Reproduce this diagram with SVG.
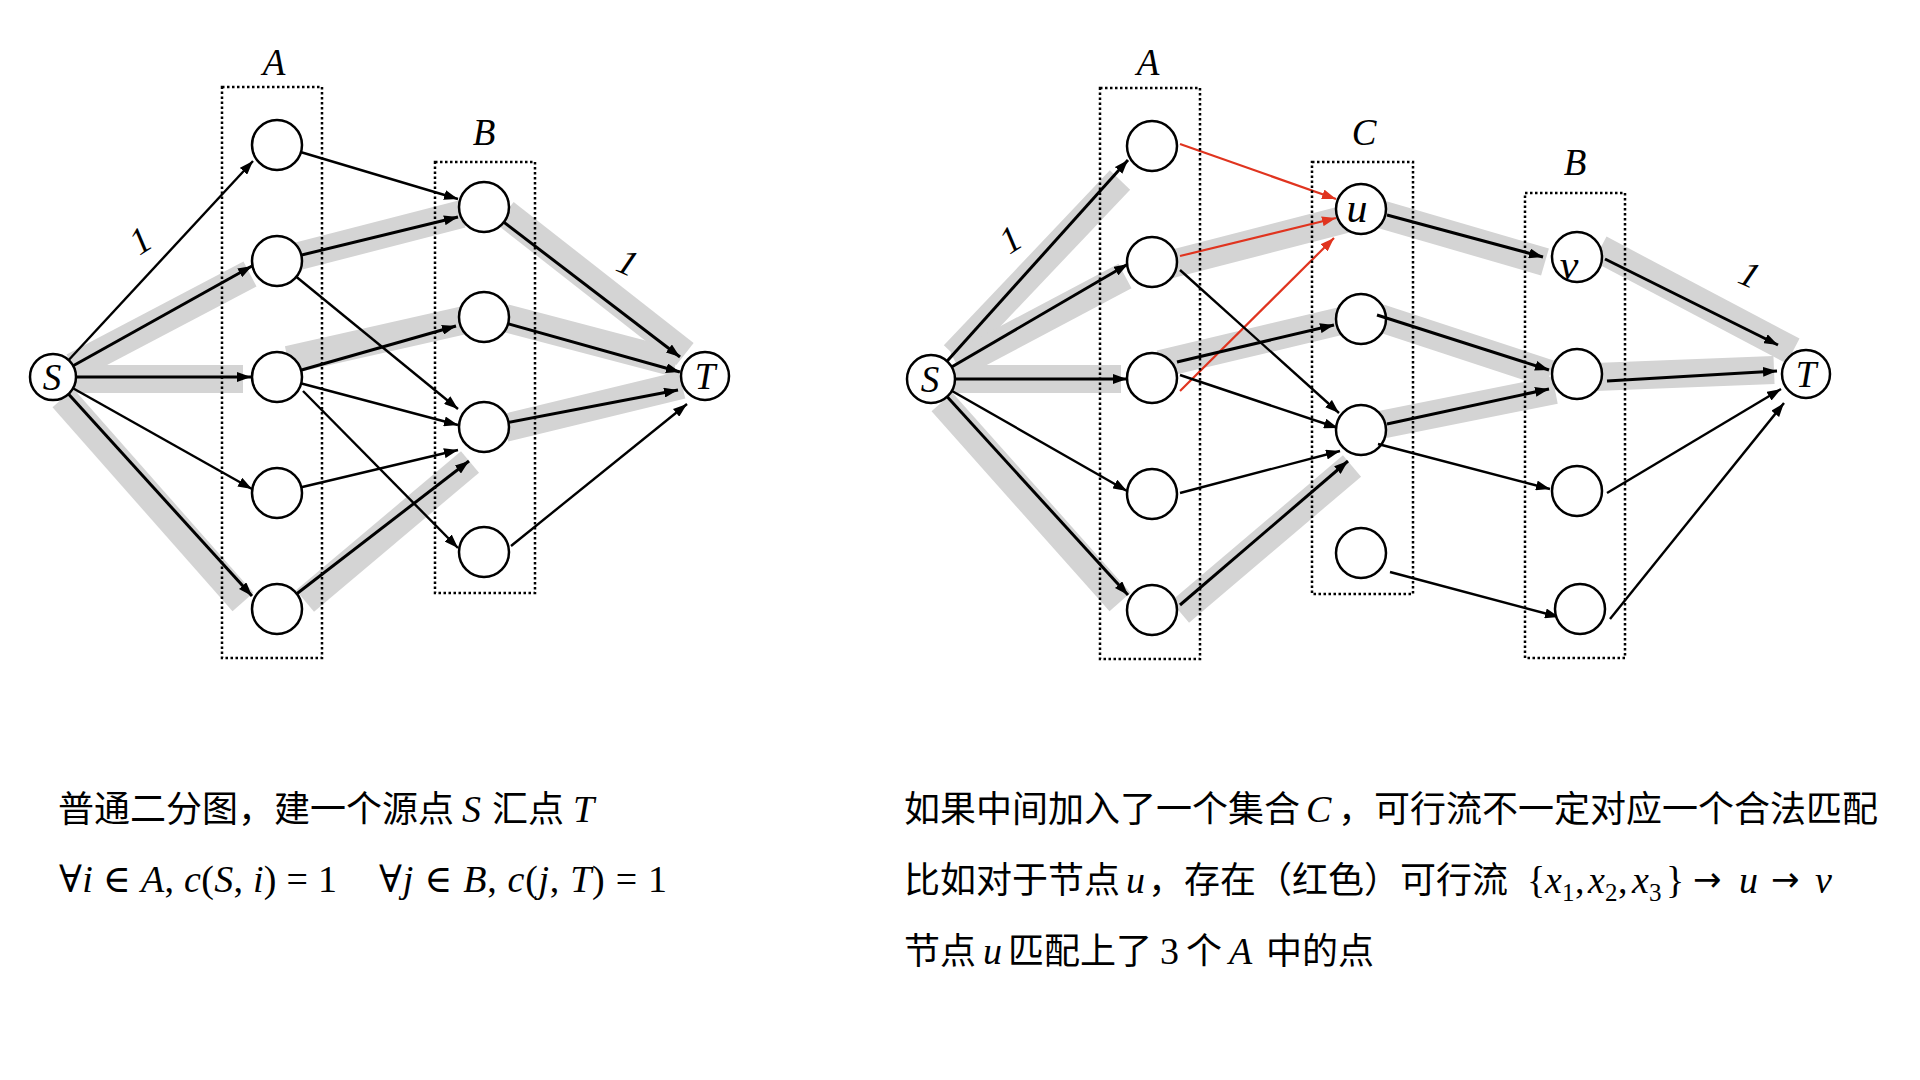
<svg xmlns="http://www.w3.org/2000/svg" width="1920" height="1080" viewBox="0 0 1920 1080">
<defs>
<marker id="ah" viewBox="0 0 14 10" refX="14" refY="5" markerWidth="14" markerHeight="10" markerUnits="userSpaceOnUse" orient="auto"><path d="M0,0 L14,5 L0,10 z" fill="#000"/></marker>
<marker id="ahr" viewBox="0 0 14 10" refX="14" refY="5" markerWidth="14" markerHeight="10" markerUnits="userSpaceOnUse" orient="auto"><path d="M0,0 L14,5 L0,10 z" fill="#e0341f"/></marker>
</defs>
<style>
.band{stroke:#d4d4d4;stroke-width:28;fill:none}
.e{stroke:#000;stroke-width:2.4;fill:none;marker-end:url(#ah)}
.k{stroke-width:3}
.r{stroke:#e0341f;stroke-width:2.2;fill:none;marker-end:url(#ahr)}
.n{fill:#fff;stroke:#000;stroke-width:2.5}
.box{fill:none;stroke:#000;stroke-width:2.5;stroke-dasharray:2.5 2.5}
.lab{font-family:"Liberation Serif",serif;font-style:italic;font-size:37px;text-anchor:middle;fill:#000}
.cjk{font-family:"Noto Sans CJK SC",sans-serif;font-size:36px;fill:#000}
.m{font-family:"Liberation Serif","DejaVu Serif",serif;font-size:38px;fill:#000}
.i{font-style:italic}
.arr{font-family:"DejaVu Sans",sans-serif;font-size:34px;fill:#000}
</style>
<rect width="1920" height="1080" fill="#fff"/>

<!-- ============ LEFT DIAGRAM ============ -->
<g id="left-connectors">
<line class="band" x1="73" y1="367" x2="250" y2="274"/>
<line class="band" x1="75" y1="379" x2="243" y2="379"/>
<line class="band" x1="63" y1="398" x2="243" y2="602"/>
<line class="band" x1="295" y1="257" x2="462" y2="214"/>
<line class="band" x1="288" y1="360" x2="465" y2="320"/>
<line class="band" x1="305" y1="601" x2="470" y2="462"/>
<line class="band" x1="505" y1="213" x2="685" y2="354"/>
<line class="band" x1="505" y1="318" x2="676" y2="363"/>
<line class="band" x1="505" y1="428" x2="682" y2="385"/>

<line class="e" x1="53" y1="377" x2="253" y2="161"/>
<line class="e k" x1="53" y1="377" x2="252" y2="266"/>
<line class="e k" x1="53" y1="377" x2="251" y2="377"/>
<line class="e" x1="53" y1="377" x2="252" y2="489"/>
<line class="e k" x1="53" y1="377" x2="252" y2="596"/>
<line class="e" x1="277" y1="145" x2="458" y2="199"/>
<line class="e k" x1="277" y1="261" x2="458" y2="217"/>
<line class="e" x1="277" y1="261" x2="458" y2="409"/>
<line class="e k" x1="277" y1="377" x2="456" y2="326"/>
<line class="e" x1="277" y1="377" x2="458" y2="425"/>
<line class="e" x1="303" y1="391" x2="458" y2="548"/>
<line class="e" x1="277" y1="493" x2="458" y2="450"/>
<line class="e k" x1="277" y1="609" x2="469" y2="461"/>
<line class="e k" x1="484" y1="207" x2="680" y2="357"/>
<line class="e k" x1="484" y1="317" x2="680" y2="372"/>
<line class="e k" x1="484" y1="427" x2="678" y2="390"/>
<line class="e" x1="511" y1="546" x2="687" y2="404"/>
</g>

<g id="left-set-A"><rect class="box" x="222" y="87" width="100" height="571"/><text class="lab" x="274" y="75">A</text></g>
<g id="left-set-B"><rect class="box" x="435" y="162" width="100" height="431"/><text class="lab" x="484" y="145">B</text></g>
<text class="lab" transform="translate(140,240) rotate(-33)" x="0" y="13">1</text>
<text class="lab" transform="translate(628,262) rotate(24)" x="0" y="13">1</text>

<g id="left-S"><circle class="n" cx="53" cy="377" r="23"/><text class="lab" x="52" y="390">S</text></g>
<g id="left-A1"><circle class="n" cx="277" cy="145" r="25"/></g>
<g id="left-A2"><circle class="n" cx="277" cy="261" r="25"/></g>
<g id="left-A3"><circle class="n" cx="277" cy="377" r="25"/></g>
<g id="left-A4"><circle class="n" cx="277" cy="493" r="25"/></g>
<g id="left-A5"><circle class="n" cx="277" cy="609" r="25"/></g>
<g id="left-B1"><circle class="n" cx="484" cy="207" r="25"/></g>
<g id="left-B2"><circle class="n" cx="484" cy="317" r="25"/></g>
<g id="left-B3"><circle class="n" cx="484" cy="427" r="25"/></g>
<g id="left-B4"><circle class="n" cx="484" cy="552" r="25"/></g>
<g id="left-T"><circle class="n" cx="705" cy="376" r="24"/><text class="lab" x="705" y="389">T</text></g>

<!-- ============ RIGHT DIAGRAM ============ -->
<g id="right-connectors">
<line class="band" x1="954" y1="355" x2="1120" y2="180"/>
<line class="band" x1="957" y1="365" x2="1125" y2="276"/>
<line class="band" x1="950" y1="379" x2="1121" y2="379"/>
<line class="band" x1="942" y1="402" x2="1120" y2="602"/>
<line class="band" x1="1160" y1="267" x2="1350" y2="218"/>
<line class="band" x1="1160" y1="364" x2="1345" y2="320"/>
<line class="band" x1="1180" y1="612" x2="1352" y2="466"/>
<line class="band" x1="1380" y1="214" x2="1545" y2="262"/>
<line class="band" x1="1380" y1="318" x2="1550" y2="374"/>
<line class="band" x1="1380" y1="425" x2="1555" y2="390"/>
<line class="band" x1="1600" y1="249" x2="1793" y2="351"/>
<line class="band" x1="1595" y1="377" x2="1774" y2="370"/>

<line class="e k" x1="931" y1="379" x2="1128" y2="160"/>
<line class="e k" x1="931" y1="379" x2="1128" y2="264"/>
<line class="e k" x1="931" y1="379" x2="1127" y2="379"/>
<line class="e" x1="931" y1="379" x2="1127" y2="491"/>
<line class="e k" x1="931" y1="379" x2="1128" y2="595"/>
<line class="r" x1="1180" y1="144" x2="1336" y2="199"/>
<line class="r" x1="1180" y1="256" x2="1336" y2="218"/>
<line class="r" x1="1180" y1="391" x2="1334" y2="238"/>
<line class="e" x1="1180" y1="270" x2="1339" y2="413"/>
<line class="e k" x1="1177" y1="362" x2="1334" y2="325"/>
<line class="e" x1="1180" y1="375" x2="1338" y2="428"/>
<line class="e" x1="1180" y1="493" x2="1340" y2="451"/>
<line class="e k" x1="1180" y1="605" x2="1348" y2="461"/>
<line class="e k" x1="1387" y1="215" x2="1543" y2="257"/>
<line class="e k" x1="1387" y1="424" x2="1549" y2="389"/>
<line class="e" x1="1390" y1="572" x2="1559" y2="617"/>
<line class="e k" x1="1605" y1="259" x2="1778" y2="345"/>
<line class="e k" x1="1607" y1="381" x2="1777" y2="371"/>
<line class="e" x1="1607" y1="493" x2="1781" y2="389"/>
<line class="e" x1="1610" y1="619" x2="1784" y2="403"/>
</g>

<g id="right-set-A"><rect class="box" x="1100" y="88" width="100" height="571"/><text class="lab" x="1148" y="75">A</text></g>
<g id="right-set-C"><rect class="box" x="1312" y="162" width="101" height="432"/><text class="lab" x="1364" y="145">C</text></g>
<g id="right-set-B"><rect class="box" x="1525" y="193" width="100" height="465"/><text class="lab" x="1575" y="175">B</text></g>
<text class="lab" transform="translate(1010,239) rotate(-33)" x="0" y="13">1</text>
<text class="lab" transform="translate(1750,274) rotate(24)" x="0" y="13">1</text>

<g id="right-S"><circle class="n" cx="931" cy="379" r="24"/><text class="lab" x="930" y="392">S</text></g>
<g id="right-A1"><circle class="n" cx="1152" cy="146" r="25"/></g>
<g id="right-A2"><circle class="n" cx="1152" cy="262" r="25"/></g>
<g id="right-A3"><circle class="n" cx="1152" cy="378" r="25"/></g>
<g id="right-A4"><circle class="n" cx="1152" cy="494" r="25"/></g>
<g id="right-A5"><circle class="n" cx="1152" cy="610" r="25"/></g>
<g id="right-C1-u"><circle class="n" cx="1361" cy="209" r="25"/><text class="lab" x="1357" y="222" style="font-size:42px">u</text></g>
<g id="right-C2"><circle class="n" cx="1361" cy="319" r="25"/></g>
<g id="right-C3"><circle class="n" cx="1361" cy="430" r="25"/></g>
<g id="right-C4"><circle class="n" cx="1361" cy="553" r="25"/></g>
<g id="right-B1-v"><circle class="n" cx="1577" cy="257" r="25"/><text class="lab" x="1569" y="279" style="font-size:42px">v</text></g>
<g id="right-B2"><circle class="n" cx="1577" cy="374" r="25"/></g>
<g id="right-B3"><circle class="n" cx="1577" cy="491" r="25"/></g>
<g id="right-B4"><circle class="n" cx="1580" cy="609" r="25"/></g>
<g id="right-T"><circle class="n" cx="1806" cy="374" r="24"/><text class="lab" x="1806" y="387">T</text></g>

<g id="right-connectors-top">
<line class="e k" x1="1377" y1="315" x2="1549" y2="370"/>
<line class="e" x1="1378" y1="444" x2="1550" y2="489"/>
</g>

<!-- ============ TEXT ============ -->
<g id="left-caption">
<text class="cjk" x="58" y="822">普通二分图，建一个源点</text>
<text class="m i" x="462" y="822">S</text>
<text class="cjk" x="492" y="822">汇点</text>
<text class="m i" x="573" y="822">T</text>
<text class="m" x="59" y="892" textLength="278" lengthAdjust="spacing">∀<tspan class="i">i</tspan> ∈ <tspan class="i">A</tspan>, <tspan class="i">c</tspan>(<tspan class="i">S</tspan>, <tspan class="i">i</tspan>) = 1</text>
<text class="m" x="379" y="892" textLength="288" lengthAdjust="spacing">∀<tspan class="i">j</tspan> ∈ <tspan class="i">B</tspan>, <tspan class="i">c</tspan>(<tspan class="i">j</tspan>, <tspan class="i">T</tspan>) = 1</text>
</g>

<g id="right-caption">
<text class="cjk" x="904" y="822">如果中间加入了一个集合</text>
<text class="m i" x="1306" y="822">C</text>
<text class="cjk" x="1338" y="822">，可行流不一定对应一个合法匹配</text>

<text class="cjk" x="904" y="893">比如对于节点</text>
<text class="m i" x="1126" y="893">u</text>
<text class="cjk" x="1148" y="893">，存在（红色）可行流</text>
<text class="m" x="1527" y="893">{</text>
<text class="m i" x="1545" y="893">x</text>
<text class="m" x="1562" y="901" style="font-size:25px">1</text>
<text class="m" x="1575" y="893">,</text>
<text class="m i" x="1588" y="893">x</text>
<text class="m" x="1605" y="901" style="font-size:25px">2</text>
<text class="m" x="1618" y="893">,</text>
<text class="m i" x="1632" y="893">x</text>
<text class="m" x="1649" y="901" style="font-size:25px">3</text>
<text class="m" x="1666" y="893">}</text>
<text class="arr" x="1693" y="891">→</text>
<text class="m i" x="1739" y="893">u</text>
<text class="arr" x="1771" y="891">→</text>
<text class="m i" x="1815" y="893">v</text>

<text class="cjk" x="904" y="964">节点</text>
<text class="m i" x="983" y="964">u</text>
<text class="cjk" x="1008" y="964">匹配上了</text>
<text class="m" x="1160" y="964">3</text>
<text class="cjk" x="1186" y="964">个</text>
<text class="m i" x="1229" y="964">A</text>
<text class="cjk" x="1266" y="964">中的点</text>
</g>
</svg>
